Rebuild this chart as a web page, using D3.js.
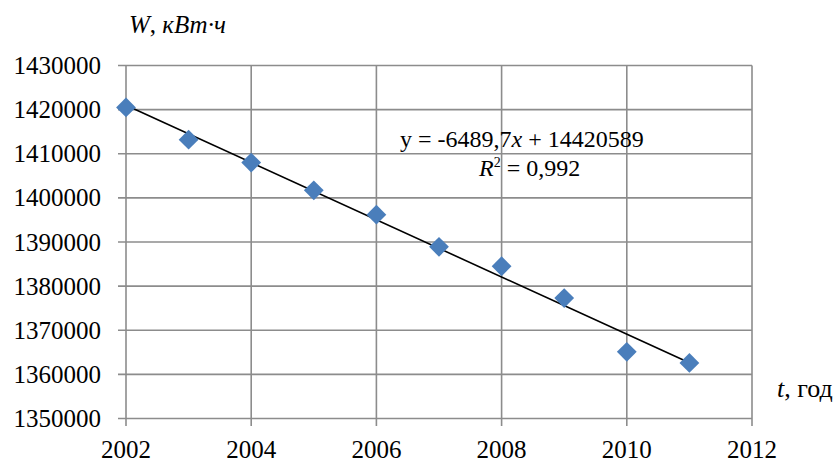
<!DOCTYPE html>
<html><head><meta charset="utf-8">
<script src="https://cdn.jsdelivr.net/npm/d3@7/dist/d3.min.js"></script>
<style>body{margin:0;background:#fff}</style>
</head><body>
<script>
const years = [2002,2003,2004,2005,2006,2007,2008,2009,2010,2011];
const energy = [1420500,1413200,1408000,1401700,1396200,1388900,1384500,1377300,1365100,1362600];
const xTicks = [2002,2004,2006,2008,2010,2012];
const yTicks = [1350000,1360000,1370000,1380000,1390000,1400000,1410000,1420000,1430000];
const equationText = "y = -6489,7";
const r2Text = "= 0,992";

const W=839,H=462;
const svg=d3.select("body").append("svg").attr("width",W).attr("height",H)
  .style("font-family","'Liberation Serif', 'Times New Roman', serif");
const x=d3.scaleLinear().domain([2002,2012]).range([126,752]);
const y=d3.scaleLinear().domain([1350000,1430000]).range([418.5,65.5]);
const grid="#8c8c8c";

svg.append("g").selectAll("line").data(yTicks).join("line")
  .attr("x1",118).attr("x2",x(2012)).attr("y1",d=>y(d)).attr("y2",d=>y(d))
  .attr("stroke",grid).attr("stroke-width",1.6);
svg.append("g").selectAll("line").data(xTicks).join("line")
  .attr("x1",d=>x(d)).attr("x2",d=>x(d)).attr("y1",y(1430000)).attr("y2",426)
  .attr("stroke",grid).attr("stroke-width",1.6);

svg.append("g").selectAll("text").data(yTicks).join("text")
  .attr("x",101).attr("y",d=>y(d)).attr("dy","0.34em").attr("text-anchor","end")
  .attr("font-size",25).text(d=>d);
svg.append("g").selectAll("text").data(xTicks).join("text")
  .attr("x",d=>x(d)).attr("y",458).attr("text-anchor","middle")
  .attr("font-size",25).text(d=>d);

const mx=d3.mean(years), my=d3.mean(energy);
const slope=d3.sum(years.map((v,i)=>(v-mx)*(energy[i]-my)))/d3.sum(years.map(v=>(v-mx)**2));
const icpt=my-slope*mx;
svg.append("line").attr("x1",x(2002)).attr("x2",x(2011))
  .attr("y1",y(icpt+slope*2002)).attr("y2",y(icpt+slope*2011))
  .attr("stroke","#000").attr("stroke-width",1.6);

svg.append("g").selectAll("path").data(years).join("path")
  .attr("transform",(d,i)=>`translate(${x(d)},${y(energy[i])}) rotate(45)`)
  .attr("d","M-7,-7H7V7H-7Z").attr("fill","#4a7ebb");

const t1=svg.append("text").attr("x",129).attr("y",33).attr("font-size",25).attr("font-style","italic");
t1.append("tspan").text("W");
t1.append("tspan").attr("font-style","normal").text(", ");
t1.append("tspan").text("кВт·ч");
const t2=svg.append("text").attr("x",777).attr("y",397).attr("font-size",26);
t2.append("tspan").attr("font-style","italic").text("t");
t2.append("tspan").text(", год");

const eq=svg.append("text").attr("x",400).attr("y",147).attr("font-size",24);
eq.append("tspan").text(equationText);
eq.append("tspan").attr("font-style","italic").text("x");
eq.append("tspan").text(" + 14420589");
const r2=svg.append("text").attr("x",479).attr("y",176).attr("font-size",24);
r2.append("tspan").attr("font-style","italic").text("R");
r2.append("tspan").attr("font-size",14).attr("dy",-9).text("2");
r2.append("tspan").attr("dy",9).text(" "+r2Text);
</script>
</body></html>
